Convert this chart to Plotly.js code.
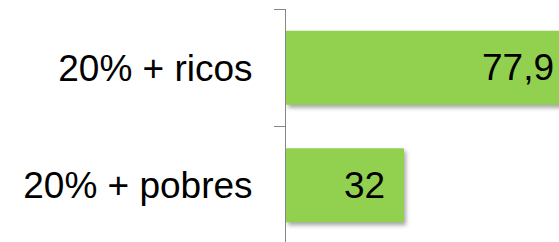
<!DOCTYPE html>
<html>
<head>
<meta charset="utf-8">
<script src="https://cdn.plot.ly/plotly-3.0.1.min.js"></script>
<style>
  html, body { margin: 0; padding: 0; overflow: hidden; background: #fff; }
  #chart { width: 600px; height: 250px; }
  .trace.bars .point path { filter: drop-shadow(2px 3px 2px rgba(0,0,0,0.35)); }
</style>
</head>
<body>
<div id="chart"></div>
<script>
// Data
const categories = ['20% + pobres', '20% + ricos'];
const values = [32, 77.9];
const barColor = '#92D050';

function fmt(v) { return String(v).replace('.', ','); }

const trace = {
  type: 'bar',
  orientation: 'h',
  y: categories,
  x: values,
  marker: { color: barColor, line: { width: 0 } },
  textposition: 'none',
  hoverinfo: 'skip'
};

const annotations = values.map((v, i) => ({
  x: v, y: categories[i], xref: 'x', yref: 'y',
  text: fmt(v), showarrow: false,
  xanchor: 'right', yanchor: 'middle', xshift: -17,
  font: { family: 'Liberation Sans, Arial, sans-serif', size: 37, color: '#000' }
}));

const layout = {
  width: 600, height: 250,
  margin: { l: 286, r: 19, t: 9, b: 6, pad: 0 },
  paper_bgcolor: '#fff', plot_bgcolor: '#fff',
  showlegend: false,
  bargap: 0.37,
  separators: ',.',
  font: { family: 'Liberation Sans, Arial, sans-serif', size: 37, color: '#000' },
  xaxis: { range: [0, 80], visible: false, fixedrange: true },
  yaxis: {
    type: 'category', range: [-0.5, 1.5],
    tickson: 'boundaries',
    showline: true, linecolor: '#868686', linewidth: 1,
    ticks: 'outside', ticklen: 11, tickcolor: '#868686', tickwidth: 1,
    showgrid: false, zeroline: false,
    tickfont: { family: 'Liberation Sans, Arial, sans-serif', size: 37, color: '#000' },
    ticklabelstandoff: 25,
    fixedrange: true
  },
  annotations: annotations
};

Plotly.newPlot('chart', [trace], layout, { displayModeBar: false, staticPlot: true });
</script>
</body>
</html>
